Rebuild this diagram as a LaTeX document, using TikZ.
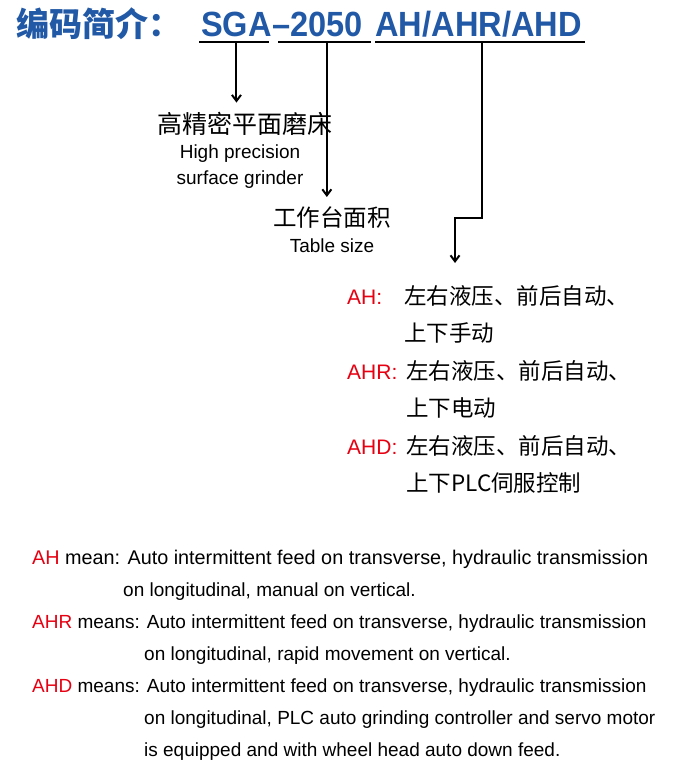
\documentclass[tikz,border=0pt]{standalone}
\usepackage{fontspec}
\setmainfont{Liberation Sans}
\newfontfamily\cjk{Noto Sans CJK SC}
\newfontfamily\codefont[FakeStretch=0.93]{Liberation Sans}
\usepackage{xcolor}
\usepackage{tikz}
\usetikzlibrary{positioning,arrows.meta,calc}
\definecolor{codeblue}{RGB}{33,89,166}
\definecolor{optred}{RGB}{230,0,18}

\begin{document}
\begin{tikzpicture}[x=1pt, y=-1pt,
  ttl/.style={inner sep=0pt, anchor=base west, text=codeblue, font=\cjk\bfseries\fontsize{33}{36}\selectfont},
  code/.style={inner sep=0pt, anchor=base west, text=codeblue, font=\codefont\bfseries\fontsize{35}{38}\selectfont},
  zh/.style={inner sep=0pt, anchor=base, font=\cjk\fontsize{22.5}{26}\selectfont},
  en/.style={inner sep=0pt, anchor=base, font=\fontsize{19}{22}\selectfont},
  enl/.style={en, anchor=base west},
  enw/.style={enl, font=\fontsize{19.8}{22}\selectfont},
  opt/.style={inner sep=0pt, anchor=base west, text=optred, font=\fontsize{21}{24}\selectfont},
  ul/.style={line width=2.4pt},
  arr/.style={line width=2pt, line join=miter, -{Straight Barb[length=6pt,width=9pt,line width=2pt]}}]
\fill[white] (0,0) rectangle (700,778);
\useasboundingbox (0,0) rectangle (700,778);
% title and code
\node[ttl] (ttl) at (16,37) {编码简介：};
\node[code] (sga) at (201,37) {SGA};
\node[code] (dash) at (sga.base east) {–};
\node[code] (num) at (dash.base east) {2050};
\node[code] (suf) at ($(num.base east)+(12,0)$) {AH/AHR/AHD};
\draw[ul] ($(sga.base west)+(-2,5)$) -- ($(sga.base east)+(-3,5)$);
\draw[ul] ($(num.base west)+(-12,5)$) -- ($(num.base east)+(8,5)$);
\draw[ul] ($(suf.base west)+(0,5)$) -- ($(suf.base east)+(3,5)$);
\coordinate (u1) at ($(sga.base)+(0,5)$);
\coordinate (u2) at ($(num.base)+(0,5)$);
\coordinate (u3) at ($(suf.base)+(3,5)$);
% meaning of each part
\node[zh, font=\cjk\fontsize{25}{28}\selectfont] (hp) at (245,134) {高精密平面磨床};
\node[en] (hpen1) at (240,159) {High precision};
\node[en] (hpen2) at (240,185) {surface grinder};
\node[zh, font=\cjk\fontsize{23.5}{27}\selectfont] (ts) at (332,226) {工作台面积};
\node[en] (tsen) at (332,252) {Table size};
\coordinate (bend) at (455,218);
\coordinate (tip) at (455,263);
\draw[arr] (u1) -- ($(u1 |- hp.north)+(0,-10)$);
\draw[arr] (u2) -- ($(u2 |- ts.north)+(0,-9)$);
\draw[arr] (u3) |- (bend) -- (tip);
% options
\node[opt] (ah) at (347,304) {AH:};
\node[zh, anchor=base west] (ahzh1) at (404,304) {左右液压、前后自动、};
\node[zh, anchor=base west] (ahzh2) at (404,341) {上下手动};
\node[opt] (ahr) at (347,379) {AHR:};
\node[zh, anchor=base west] (ahrzh1) at (406,379) {左右液压、前后自动、};
\node[zh, anchor=base west] (ahrzh2) at (406,416) {上下电动};
\node[opt] (ahd) at (347,454) {AHD:};
\node[zh, anchor=base west] (ahdzh1) at (406,454) {左右液压、前后自动、};
\node[zh, anchor=base west] (ahdzh2) at (406,491) {上下PLC伺服控制};
% english notes
\node[enw] (m1) at (32,564) {\textcolor{optred}{AH} mean: Auto intermittent feed on transverse, hydraulic transmission};
\node[enl] (m1b) at (123,596) {on longitudinal, manual on vertical.};
\node[enl] (m2) at (32,628) {\textcolor{optred}{AHR} means: Auto intermittent feed on transverse, hydraulic transmission};
\node[enl] (m2b) at (144,660) {on longitudinal, rapid movement on vertical.};
\node[enl] (m3) at (32,692) {\textcolor{optred}{AHD} means: Auto intermittent feed on transverse, hydraulic transmission};
\node[enl] (m3b) at (144,724) {on longitudinal, PLC auto grinding controller and servo motor};
\node[enl] (m3c) at (144,756) {is equipped and with wheel head auto down feed.};
\end{tikzpicture}
\end{document}
